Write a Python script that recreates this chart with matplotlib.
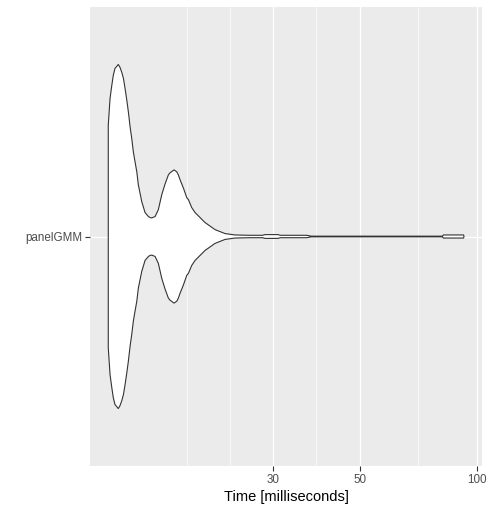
import matplotlib.pyplot as plt
import numpy as np
from matplotlib.ticker import FixedLocator, NullFormatter

plt.rcParams['font.family'] = ['Liberation Sans', 'DejaVu Sans']

# violin outline: time (ms) and relative half-width (max = 1)
time_ms = [11.34, 11.46, 11.58, 11.68, 11.80, 11.92, 12.03, 12.15, 12.28, 12.40,
           12.52, 12.65, 12.77, 12.90, 13.02, 13.15, 13.28, 13.42, 13.54, 13.82,
           14.09, 14.37, 14.51, 14.66, 14.95, 15.24, 15.55, 15.86, 16.17, 16.33,
           16.72, 16.99, 17.15, 17.33, 17.66, 18.03, 18.20, 18.56, 18.93, 20.08,
           21.30, 22.59, 23.97, 26.0, 28.2, 28.6, 30.9, 31.3, 36.6, 37.6,
           81.6, 82.0, 92.4, 92.6]
density = [0.647, 0.803, 0.879, 0.936, 0.977, 0.988, 1.0, 0.983, 0.954, 0.919,
           0.861, 0.792, 0.723, 0.636, 0.572, 0.491, 0.434, 0.376, 0.301, 0.202,
           0.139, 0.116, 0.110, 0.108, 0.116, 0.156, 0.243, 0.306, 0.358, 0.370,
           0.387, 0.376, 0.358, 0.329, 0.283, 0.225, 0.214, 0.168, 0.139, 0.081,
           0.040, 0.017, 0.009, 0.007, 0.007, 0.011, 0.011, 0.007, 0.007, 0.002,
           0.002, 0.009, 0.009, 0.0]

expr = ["panelGMM"]
x_breaks = [30, 50, 100]
x_limits = (10.18, 103.0)


def minor_breaks(b, lims):
	# same idea as ggplot's regular_minor_breaks, in log10 space
	lb = list(np.log10(b))
	bd = lb[1] - lb[0]
	if np.log10(lims[0]) < lb[0]:
		lb = [lb[0] - bd] + lb
	if np.log10(lims[1]) > lb[-1]:
		lb = lb + [lb[-1] + bd]
	out = []
	for a, c in zip(lb[:-1], lb[1:]):
		out += [a, (a + c) / 2]
	out.append(lb[-1])
	out = [10 ** v for v in out if v not in np.log10(b)]
	return [v for v in out if lims[0] < v < lims[1]]


def main():
	fig = plt.figure(figsize=(4.9, 5.12), dpi=100)
	ax = fig.add_axes([90 / 490, 1 - 466 / 512, 392 / 490, 459 / 512])
	ax.set_facecolor('#EBEBEB')

	t = np.array(time_ms)
	w = 0.45 * np.array(density)
	xs = np.concatenate([t, t[::-1]])
	ys = np.concatenate([1 + w, (1 - w)[::-1]])
	ax.fill(xs, ys, facecolor='white', edgecolor='#333333', lw=0.8, zorder=3)

	ax.set_xscale('log')
	ax.set_xlim(*x_limits)
	ax.set_ylim(0.4, 1.6)
	ax.xaxis.set_major_locator(FixedLocator(x_breaks))
	ax.set_xticklabels([str(v) for v in x_breaks])
	ax.xaxis.set_minor_locator(FixedLocator(minor_breaks(x_breaks, x_limits)))
	ax.xaxis.set_minor_formatter(NullFormatter())
	ax.set_yticks([1])
	ax.set_yticklabels(expr)

	ax.grid(which='major', color='white', lw=0.9, zorder=0)
	ax.grid(which='minor', axis='x', color='white', lw=0.5, zorder=0)
	ax.set_axisbelow(True)
	for s in ax.spines.values():
		s.set_visible(False)
	ax.tick_params(which='major', length=3.3, width=0.8, color='#333333',
		labelcolor='#4D4D4D', labelsize=8.4, pad=2.5)
	ax.tick_params(which='minor', length=0)

	ax.set_xlabel("Time [milliseconds]", fontsize=10.5, labelpad=3)

	fig.savefig("out.png", dpi=100)


if __name__ == "__main__":
	main()
